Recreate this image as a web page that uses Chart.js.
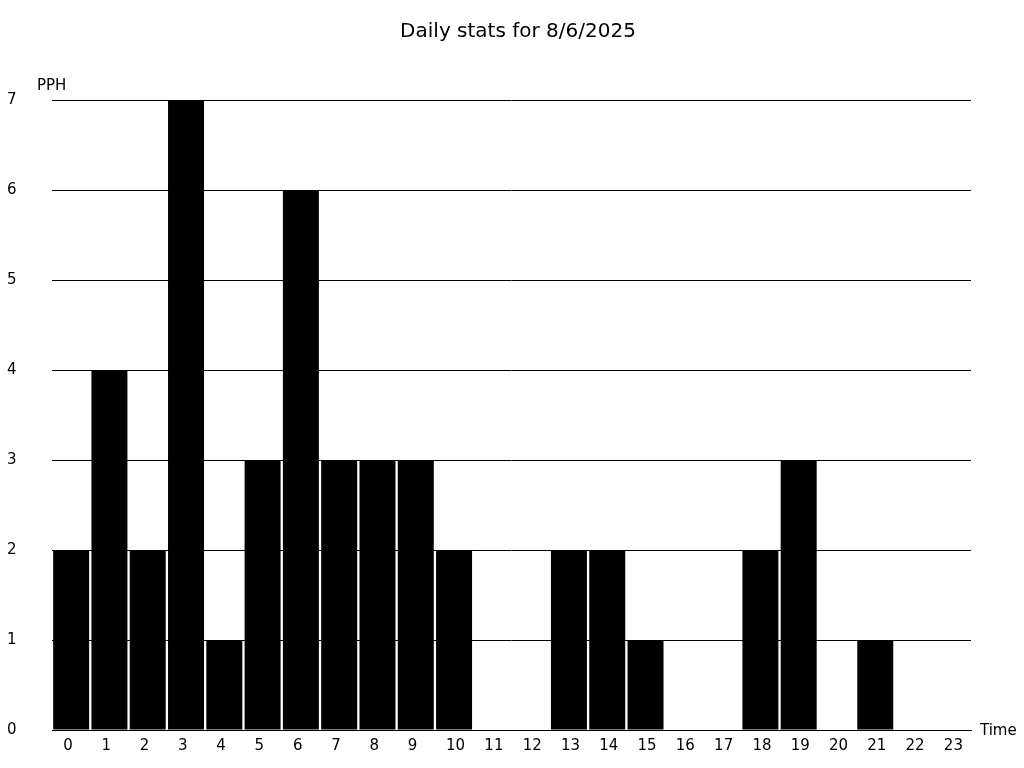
<!DOCTYPE html>
<html>
<head>
<meta charset="utf-8">
<script src="https://cdn.jsdelivr.net/npm/chart.js@4/dist/chart.umd.min.js"></script>
<style>
  html, body { margin: 0; padding: 0; background: #fff; }
  #wrap { width: 1024px; height: 768px; }
</style>
</head>
<body>
<div id="wrap"><canvas id="chart" width="1024" height="768"></canvas></div>
<script>
// Hours of the day
const hours = ['0','1','2','3','4','5','6','7','8','9','10','11','12','13','14','15','16','17','18','19','20','21','22','23'];
// PPH per hour
const pph = [2, 4, 2, 7, 1, 3, 6, 3, 3, 3, 2, 0, 0, 2, 2, 1, 0, 0, 2, 3, 0, 1, 0, 0];
const yTicks = [0, 1, 2, 3, 4, 5, 6, 7];

const chartTitle = 'Daily stats for 8/6/2025';
const yLabel = 'PPH';
const xLabel = 'Time';
const fontFamily = '"DejaVu Sans", sans-serif';

// Draws the title and the axis labels at the corners of the plot
const labelsPlugin = {
    id: 'cornerLabels',
    afterDraw(chart) {
        const ctx = chart.ctx;
        const area = chart.chartArea;
        ctx.save();
        ctx.fillStyle = '#000';
        ctx.textBaseline = 'middle';

        ctx.font = '20px ' + fontFamily;
        ctx.textAlign = 'center';
        ctx.fillText(chartTitle, 518, 32);

        ctx.font = '15px ' + fontFamily;
        ctx.textAlign = 'left';
        ctx.fillText(yLabel, 37, area.top - 14);
        ctx.fillText(xLabel, area.right + 9, area.bottom + 1);
        ctx.restore();
    }
};

const ctx = document.getElementById('chart').getContext('2d');
new Chart(ctx, {
    type: 'bar',
    data: {
        labels: hours,
        datasets: [{
            label: yLabel,
            data: pph,
            backgroundColor: '#000',
            borderWidth: 0,
            barPercentage: 0.94,
            categoryPercentage: 1
        }]
    },
    options: {
        responsive: false,
        animation: false,
        layout: {
            padding: { top: 100, right: 53, bottom: 0, left: 7 }
        },
        plugins: {
            legend: { display: false },
            title: { display: false },
            tooltip: { enabled: false }
        },
        scales: {
            x: {
                grid: { display: false, drawTicks: false },
                border: { display: true, color: '#000', width: 1 },
                ticks: {
                    color: '#000',
                    font: { family: fontFamily, size: 15 },
                    padding: 7,
                    align: 'start',
                    labelOffset: -8,
                    maxRotation: 0,
                    autoSkip: false
                },
                afterFit(scale) { scale.height = 38; }
            },
            y: {
                min: 0,
                max: 7,
                afterBuildTicks(scale) {
                    scale.ticks = yTicks.map(v => ({ value: v }));
                },
                grid: { color: '#000', lineWidth: 1, drawTicks: false },
                border: { display: false },
                ticks: {
                    color: '#000',
                    font: { family: fontFamily, size: 15 },
                    crossAlign: 'far'
                },
                afterFit(scale) { scale.width = 45; }
            }
        }
    },
    plugins: [labelsPlugin]
});
</script>
</body>
</html>
